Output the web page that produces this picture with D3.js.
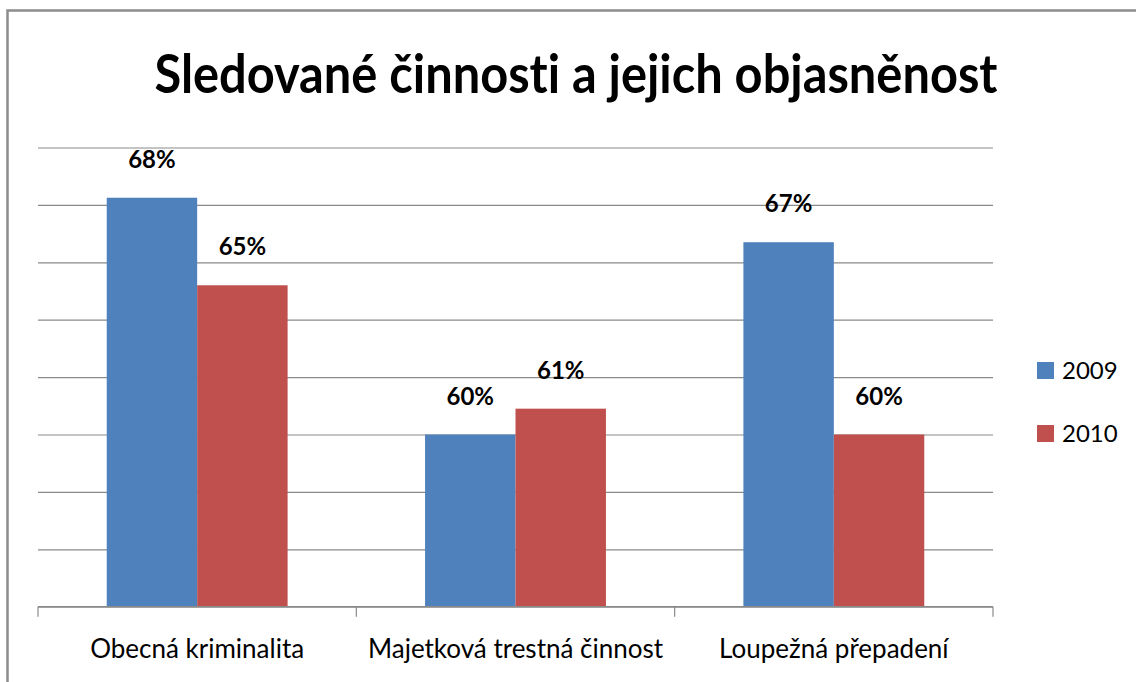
<!DOCTYPE html>
<html>
<head>
<meta charset="utf-8">
<script src="https://cdn.jsdelivr.net/npm/d3@7"></script>
<style>
    body { margin: 0; background: #fff; }
    text { font-family: Lato, "Open Sans", sans-serif; font-variant-ligatures: none; }
</style>
</head>
<body>
<div id="chart"></div>
<script>
const title = "Sledované činnosti a jejich objasněnost";
const categories = ["Obecná kriminalita", "Majetková trestná činnost", "Loupežná přepadení"];
const seriesNames = ["2009", "2010"];
const values2009 = [68.25, 60.0, 66.7];
const values2010 = [65.2, 60.9, 60.0];
const labels2009 = ["68%", "60%", "67%"];
const labels2010 = ["65%", "61%", "60%"];
const yTicks = [54, 56, 58, 60, 62, 64, 66, 68, 70];
const colors = ["#4f81bd", "#c0504d"];

function drawChart() {
    const w = 1136;
    const h = 682;

    const left = 38;
    const right = 993;
    const top = 147.5;
    const bottom = 606.7;

    const svg = d3.select("#chart")
        .append("svg")
        .attr("width", w)
        .attr("height", h);

    // outer frame (only top and left edges are visible)
    svg.append("rect")
        .attr("x", 7.5)
        .attr("y", 10.5)
        .attr("width", w + 20)
        .attr("height", h + 20)
        .attr("fill", "none")
        .attr("stroke", "#8c8c8c")
        .attr("stroke-width", 2.5);

    svg.append("text")
        .attr("x", 576)
        .attr("y", 93)
        .attr("text-anchor", "middle")
        .attr("font-size", 54)
        .attr("font-weight", "bold")
        .attr("textLength", 843)
        .attr("lengthAdjust", "spacingAndGlyphs")
        .attr("fill", "#000")
        .text(title);

    const xScale = d3.scaleBand()
        .domain(categories)
        .range([left, right])
        .paddingInner(0)
        .paddingOuter(0);

    const xSub = d3.scaleBand()
        .domain(seriesNames)
        .range([0, xScale.bandwidth()])
        .paddingInner(0)
        .paddingOuter(0.76);

    const yScale = d3.scaleLinear()
        .domain([54, 70])
        .range([bottom, top]);

    // gridlines
    const yAxis = d3.axisLeft(yScale)
        .tickValues(yTicks)
        .tickSize(-(right - left))
        .tickFormat("");

    const gGrid = svg.append("g")
        .attr("transform", "translate(" + left + ",0)")
        .call(yAxis);
    gGrid.select(".domain").remove();
    gGrid.selectAll("line")
        .attr("stroke", "#8a8a8a")
        .attr("stroke-width", 1.2);

    const data = categories.map(function (c, i) {
        return {
            category: c,
            items: [
                { series: seriesNames[0], value: values2009[i], label: labels2009[i], color: colors[0] },
                { series: seriesNames[1], value: values2010[i], label: labels2010[i], color: colors[1] }
            ]
        };
    });

    const groups = svg.selectAll(".group")
        .data(data)
        .enter()
        .append("g")
        .attr("class", "group")
        .attr("transform", function (d) {
            return "translate(" + xScale(d.category) + ",0)";
        });

    groups.selectAll("rect")
        .data(function (d) { return d.items; })
        .enter()
        .append("rect")
        .attr("x", function (d) { return xSub(d.series); })
        .attr("y", function (d) { return yScale(d.value); })
        .attr("width", xSub.bandwidth())
        .attr("height", function (d) { return bottom - yScale(d.value); })
        .attr("fill", function (d) { return d.color; });

    groups.selectAll(".valueLabel")
        .data(function (d) { return d.items; })
        .enter()
        .append("text")
        .attr("class", "valueLabel")
        .attr("x", function (d) { return xSub(d.series) + xSub.bandwidth() / 2; })
        .attr("y", function (d) { return yScale(d.value) - 30; })
        .attr("text-anchor", "middle")
        .attr("font-size", 24)
        .attr("font-weight", "bold")
        .attr("fill", "#000")
        .text(function (d) { return d.label; });

    // x axis line with ticks at category boundaries
    const xAxis = d3.axisBottom(xScale)
        .tickSize(0)
        .tickPadding(33);

    const gx = svg.append("g")
        .attr("transform", "translate(0," + bottom + ")")
        .call(xAxis);
    gx.select(".domain")
        .attr("stroke", "#8a8a8a")
        .attr("stroke-width", 1.2)
        .attr("d", "M" + left + ",0H" + right);
    gx.selectAll("text")
        .attr("font-size", 26)
        .attr("fill", "#000")
        .attr("font-family", "Lato, sans-serif");

    const boundaries = categories.map(function (c) { return xScale(c); }).concat([right]);
    gx.selectAll(".boundary")
        .data(boundaries)
        .enter()
        .append("line")
        .attr("class", "boundary")
        .attr("x1", function (d) { return d; })
        .attr("x2", function (d) { return d; })
        .attr("y1", 0)
        .attr("y2", 10)
        .attr("stroke", "#8a8a8a")
        .attr("stroke-width", 1.2);

    // legend
    const legend = svg.selectAll(".legend")
        .data(seriesNames)
        .enter()
        .append("g")
        .attr("class", "legend")
        .attr("transform", function (d, i) {
            return "translate(1037," + (362 + i * 63) + ")";
        });

    legend.append("rect")
        .attr("width", 17)
        .attr("height", 17)
        .attr("fill", function (d, i) { return colors[i]; });

    legend.append("text")
        .attr("x", 25)
        .attr("y", 17)
        .attr("font-size", 24)
        .attr("fill", "#000")
        .text(function (d) { return d; });
}

drawChart();
</script>
</body>
</html>
